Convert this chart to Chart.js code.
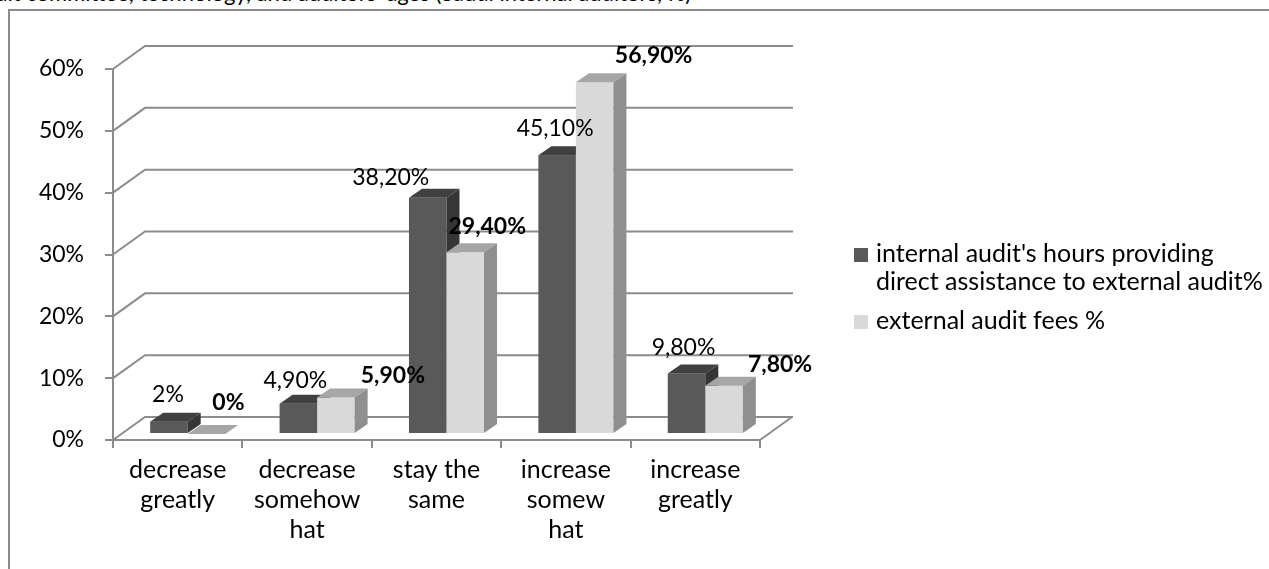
<!DOCTYPE html>
<html>
<head>
  <title>Internal audit assistance and external audit fees</title>
  <script src="https://cdn.jsdelivr.net/npm/chart.js"></script>
  <style>
    body { margin: 0; background: #fff; font-family: Lato, sans-serif; overflow: hidden; }
    .caption { position: absolute; left: -28px; top: -21px; font-size: 22px; white-space: nowrap; color: #000; }
    .frame { position: absolute; left: 8px; top: 9px; width: 1300px; height: 600px;
             border-left: 2px solid #8c8c8c; border-top: 2px solid #8c8c8c; background: #fff; }
    #auditChart { position: absolute; left: 0; top: 0; }
  </style>
</head>
<body>
  <div class="caption">audit committee, technology, and auditors' ages (Saudi internal auditors, %)</div>
  <div class="frame"></div>
  <canvas id="auditChart" width="1269" height="569"></canvas>

  <script>
    const categories = [
      ['decrease', 'greatly'],
      ['decrease', 'somehow', 'hat'],
      ['stay the', 'same'],
      ['increase', 'somew', 'hat'],
      ['increase', 'greatly']
    ];
    const internalHours = [2, 4.9, 38.2, 45.1, 9.8];
    const auditFees = [0, 5.9, 29.4, 56.9, 7.8];
    const legendLines = [
      ["internal audit's hours providing", 'direct assistance to external audit%'],
      ['external audit fees %']
    ];

    // face shades for the 3D columns: front, top, right side
    const shades = [
      { front: '#595959', top: '#404040', side: '#363636' },
      { front: '#d9d9d9', top: '#a6a6a6', side: '#8f8f8f' }
    ];
    // hand placed value labels (dx, dy from the front top of each column)
    const labelNudge = [
      [[-1, -27], [-3, -23], [-37, -20], [-2, -27], [-3, -26]],
      [[22, -31], [57, -22], [22, -26], [59, -27], [56, -21]]
    ];

    const FLOOR = { x: 32, y: 23 };
    const BAR_OFF = { x: 10, y: 6 };
    const BAR_DEPTH = { x: 13, y: 9 };
    const GRID = '#8c8c8c';

    function pct(v) {
      return Number.isInteger(v) ? v + '%' : v.toFixed(2).replace('.', ',') + '%';
    }

    Chart.defaults.font.family = 'Lato';
    Chart.defaults.color = '#000';

    const wallsPlugin = {
      id: 'walls',
      beforeDatasetsDraw(chart) {
        const { ctx, chartArea, scales } = chart;
        const y = scales.y;
        const left = chartArea.left;
        const wallRight = chartArea.right + FLOOR.x + 1;
        ctx.save();
        ctx.strokeStyle = GRID;
        ctx.lineWidth = 2;
        y.ticks.forEach(t => {
          const py = y.getPixelForValue(t.value);
          ctx.beginPath();
          ctx.moveTo(left, py);
          ctx.lineTo(left + FLOOR.x, py - FLOOR.y);
          ctx.lineTo(wallRight, py - FLOOR.y);
          ctx.stroke();
        });
        const p0 = y.getPixelForValue(0);
        ctx.beginPath();
        ctx.moveTo(chartArea.right, p0);
        ctx.lineTo(chartArea.right + FLOOR.x, p0 - FLOOR.y);
        ctx.stroke();
        ctx.restore();
      }
    };

    const columnsPlugin = {
      id: 'columns',
      afterDatasetsDraw(chart) {
        const ctx = chart.ctx;
        const metas = chart.data.datasets.map((d, i) => chart.getDatasetMeta(i));
        ctx.save();
        categories.forEach((c, j) => {
          metas.forEach((meta, i) => {
            const bar = meta.data[j];
            const x0 = bar.x - bar.width / 2 + BAR_OFF.x;
            const x1 = x0 + bar.width;
            const yb = bar.base - BAR_OFF.y;
            const yt = bar.y - BAR_OFF.y;
            const s = shades[i];
            ctx.fillStyle = s.front;
            ctx.fillRect(x0, yt, x1 - x0, yb - yt);
            ctx.fillStyle = s.top;
            ctx.beginPath();
            ctx.moveTo(x0, yt);
            ctx.lineTo(x1, yt);
            ctx.lineTo(x1 + BAR_DEPTH.x, yt - BAR_DEPTH.y);
            ctx.lineTo(x0 + BAR_DEPTH.x, yt - BAR_DEPTH.y);
            ctx.closePath();
            ctx.fill();
            ctx.fillStyle = s.side;
            ctx.beginPath();
            ctx.moveTo(x1, yt);
            ctx.lineTo(x1 + BAR_DEPTH.x, yt - BAR_DEPTH.y);
            ctx.lineTo(x1 + BAR_DEPTH.x, yb - BAR_DEPTH.y);
            ctx.lineTo(x1, yb);
            ctx.closePath();
            ctx.fill();
          });
        });
        ctx.restore();
      },
      afterDraw(chart) {
        const ctx = chart.ctx;
        ctx.save();
        ctx.textAlign = 'center';
        ctx.textBaseline = 'middle';
        chart.data.datasets.forEach((ds, i) => {
          const meta = chart.getDatasetMeta(i);
          ctx.font = (i === 1 ? 'bold ' : '') + '23px Lato';
          ctx.fillStyle = '#000';
          meta.data.forEach((bar, j) => {
            const n = labelNudge[i][j];
            ctx.fillText(pct(ds.data[j]), bar.x + BAR_OFF.x + n[0], bar.y - BAR_OFF.y + n[1]);
          });
        });

        // legend on the right
        ctx.textAlign = 'left';
        ctx.font = '25px Lato';
        const entryTop = [248, 315];
        legendLines.forEach((lines, i) => {
          ctx.fillStyle = shades[i].front;
          ctx.fillRect(854, entryTop[i], 14, 14);
          ctx.fillStyle = '#000';
          lines.forEach((line, k) => {
            ctx.fillText(line, 876, entryTop[i] + 6 + k * 28);
          });
        });
        ctx.restore();
      }
    };

    const ctx = document.getElementById('auditChart').getContext('2d');
    new Chart(ctx, {
      type: 'bar',
      data: {
        labels: categories,
        datasets: [
          { label: legendLines[0].join(' '), data: internalHours, backgroundColor: 'rgba(0,0,0,0)' },
          { label: legendLines[1].join(' '), data: auditFees, backgroundColor: 'rgba(0,0,0,0)' }
        ]
      },
      options: {
        responsive: false,
        animation: false,
        events: [],
        categoryPercentage: 0.58,
        barPercentage: 1,
        layout: { padding: { top: 69, right: 509, left: 0, bottom: 0 } },
        plugins: { legend: { display: false }, tooltip: { enabled: false } },
        scales: {
          x: {
            grid: { drawOnChartArea: false, drawTicks: true, tickLength: 8, color: GRID, lineWidth: 2 },
            border: { display: true, color: GRID, width: 2 },
            ticks: { font: { size: 25, lineHeight: 1.2 }, color: '#000', padding: 7, maxRotation: 0, autoSkip: false },
            afterFit(scale) { scale.height = 569 - 440; }
          },
          y: {
            min: 0,
            max: 60,
            grid: { drawOnChartArea: false, drawTicks: true, tickLength: 8, color: GRID, lineWidth: 2 },
            border: { display: true, color: GRID, width: 2 },
            ticks: { stepSize: 10, font: { size: 23 }, color: '#000', padding: 21, callback: v => v + '%' },
            afterFit(scale) { scale.width = 113; }
          }
        }
      },
      plugins: [wallsPlugin, columnsPlugin]
    });
  </script>
</body>
</html>
